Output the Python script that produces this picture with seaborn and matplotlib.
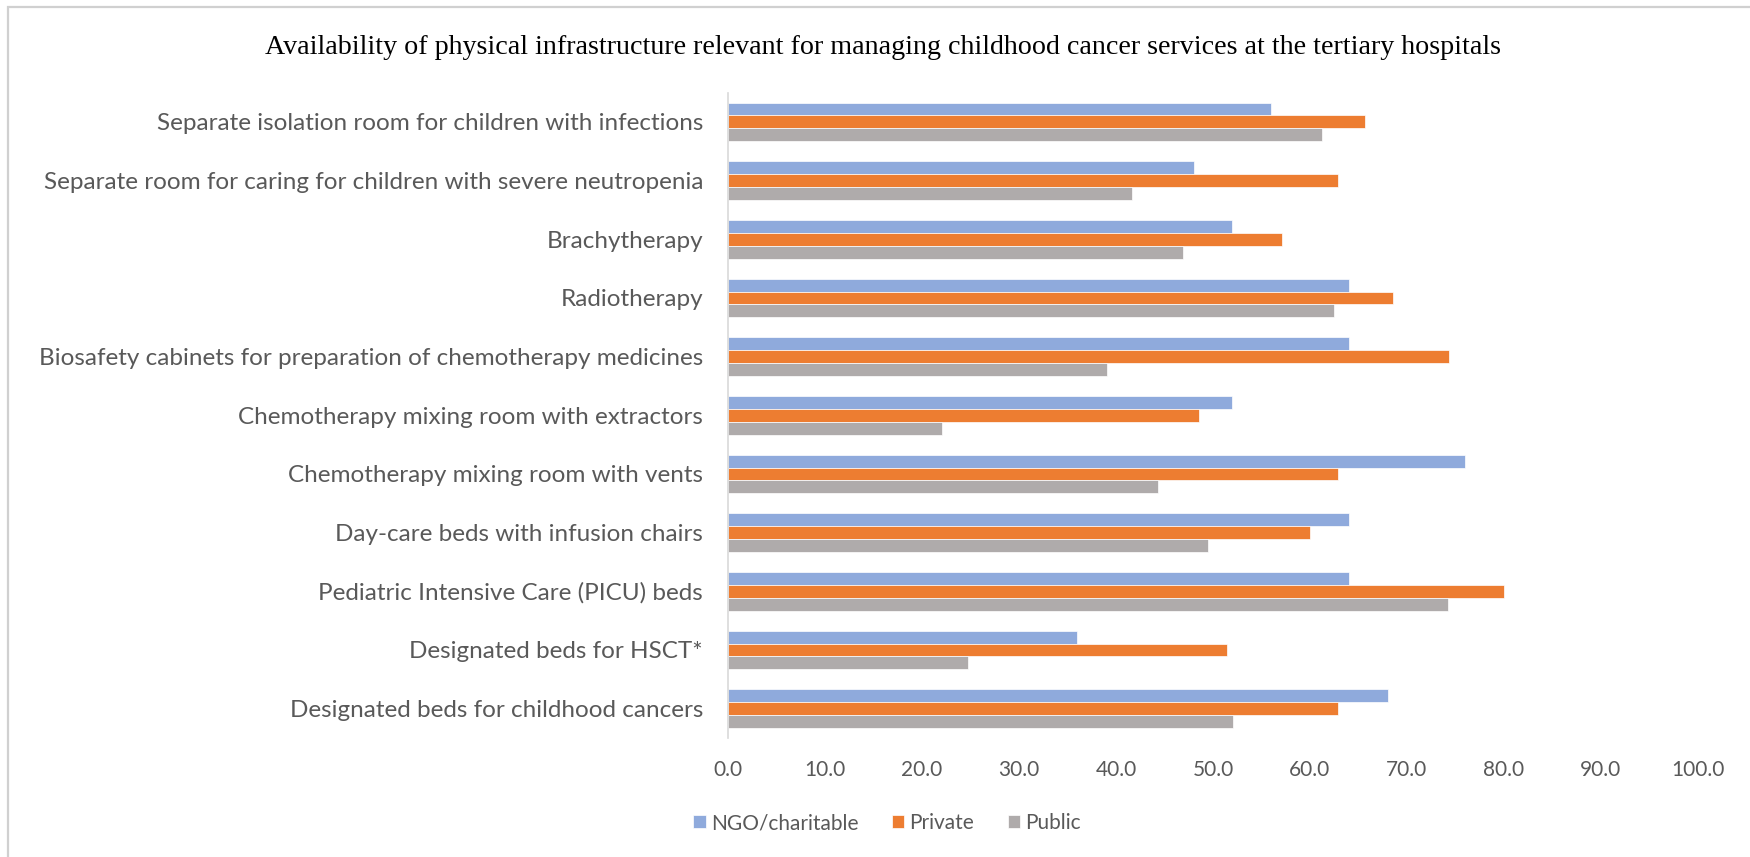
import matplotlib
matplotlib.use("Agg")
import matplotlib.pyplot as plt
import seaborn as sns
import pandas as pd
from matplotlib.patches import Rectangle

categories = [
    "Separate isolation room for children with infections",
    "Separate room for caring for children with severe neutropenia",
    "Brachytherapy",
    "Radiotherapy",
    "Biosafety cabinets for preparation of chemotherapy medicines",
    "Chemotherapy mixing room with extractors",
    "Chemotherapy mixing room with vents",
    "Day-care beds with infusion chairs",
    "Pediatric Intensive Care (PICU) beds",
    "Designated beds for HSCT*",
    "Designated beds for childhood cancers",
]
ngo = [56.0, 48.0, 52.0, 64.0, 64.0, 52.0, 76.0, 64.0, 64.0, 36.0, 68.0]
private = [65.7, 62.9, 57.1, 68.6, 74.3, 48.6, 62.9, 60.0, 80.0, 51.4, 62.9]
public = [61.2, 41.7, 46.9, 62.5, 39.1, 22.1, 44.3, 49.5, 74.2, 24.7, 52.1]
series_names = ["NGO/charitable", "Private", "Public"]
series_colors = ["#8FAADC", "#ED7D31", "#AFABAB"]
x_ticks = [0, 10, 20, 30, 40, 50, 60, 70, 80, 90, 100]

rows = []
for name, vals in zip(series_names, [ngo, private, public]):
    for cat, v in zip(categories, vals):
        rows.append({"category": cat, "type": name, "value": v})
df = pd.DataFrame(rows)

sns.set_theme(style="white")
plt.rcParams["font.family"] = ["Lato", "DejaVu Sans"]

W, H = 1750, 857
fig = plt.figure(figsize=(W / 100, H / 100), dpi=100)
fig.patch.set_facecolor("white")

# chart frame
fig.add_artist(Rectangle((8 / W, -0.05), 1.2, 1 - 7 / H + 0.05,
                         transform=fig.transFigure, fill=False,
                         edgecolor="#D0D0D0", linewidth=1.6))

ax_left, ax_right = 728 / W, 1698 / W
ax_top, ax_bottom = 1 - 92.6 / H, 1 - 738 / H
ax = fig.add_axes([ax_left, ax_bottom, ax_right - ax_left, ax_top - ax_bottom])

sns.barplot(data=df, y="category", x="value", hue="type",
            order=categories, hue_order=series_names,
            palette=series_colors, width=0.66, orient="h",
            edgecolor="white", linewidth=0.5, saturation=1, ax=ax)

ax.set_xlim(0, 100)
ax.set_ylim(len(categories) - 0.5, -0.5)
ax.set_xticks(x_ticks)
ax.set_xticklabels([f"{t:.1f}" for t in x_ticks])
ax.set_xlabel("")
ax.set_ylabel("")
ax.tick_params(axis="x", length=0, pad=16, labelsize=15, labelcolor="#595959")
ax.tick_params(axis="y", length=0, pad=18, labelsize=17.5, labelcolor="#595959")
for s in ["top", "right", "bottom"]:
    ax.spines[s].set_visible(False)
ax.spines["left"].set_color("#D9D9D9")
ax.spines["left"].set_linewidth(1.2)
ax.grid(False)

leg = ax.legend(loc="center", bbox_to_anchor=(887 / W, 1 - 823 / H),
                bbox_transform=fig.transFigure, ncol=3, frameon=False,
                fontsize=15, handlelength=0.6, handleheight=0.6,
                handletextpad=0.25, columnspacing=1.6)
for t in leg.get_texts():
    t.set_color("#595959")

fig.text(883 / W, 1 - 47 / H,
         "Availability of physical infrastructure relevant for managing childhood cancer services at the tertiary hospitals",
         ha="center", va="center", fontsize=20.2, color="black",
         family=["Liberation Serif", "DejaVu Serif"])

fig.savefig("out.png", dpi=100, facecolor="white")
